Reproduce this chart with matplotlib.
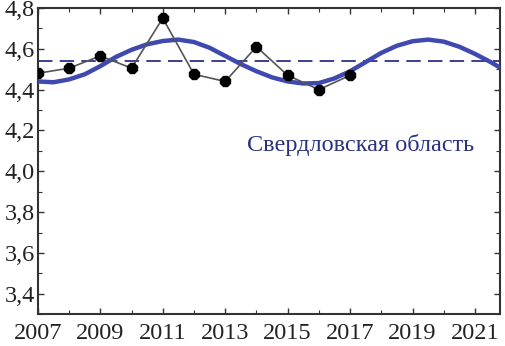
import matplotlib
matplotlib.use('Agg')
import matplotlib.pyplot as plt
from matplotlib.ticker import MultipleLocator, FuncFormatter

# observed values
years = [2007, 2008, 2009, 2010, 2011, 2012, 2013, 2014, 2015, 2016, 2017]
values = [4.48, 4.505, 4.565, 4.505, 4.75, 4.475, 4.44, 4.61, 4.47, 4.40, 4.47]

# fitted cyclic curve, every half year
fit_years = [2007.0, 2007.5, 2008.0, 2008.5, 2009.0, 2009.5, 2010.0, 2010.5,
             2011.0, 2011.5, 2012.0, 2012.5, 2013.0, 2013.5, 2014.0, 2014.5,
             2015.0, 2015.5, 2016.0, 2016.5, 2017.0, 2017.5, 2018.0, 2018.5,
             2019.0, 2019.5, 2020.0, 2020.5, 2021.0, 2021.5, 2022.0]
fit_values = [4.44, 4.436, 4.45, 4.475, 4.515, 4.56, 4.595, 4.622,
              4.638, 4.645, 4.633, 4.605, 4.565, 4.525, 4.49, 4.46,
              4.44, 4.43, 4.432, 4.455, 4.49, 4.535, 4.58, 4.615,
              4.637, 4.645, 4.635, 4.61, 4.575, 4.535, 4.49]

mean_level = 4.54
label = 'Свердловская область'
x_ticks = [2007, 2009, 2011, 2013, 2015, 2017, 2019, 2021]
y_ticks = [3.4, 3.6, 3.8, 4.0, 4.2, 4.4, 4.6, 4.8]

plt.rcParams['font.family'] = ['Liberation Serif', 'DejaVu Serif']

fig = plt.figure(figsize=(5.05, 3.46), dpi=100)
ax = fig.add_axes([0.075, 0.092, 0.915, 0.885])

ax.plot(fit_years, fit_values, color='#4049b0', lw=3.2, solid_capstyle='butt', zorder=3)
ax.axhline(mean_level, color='#2b3185', lw=1.3, dashes=(8, 4), zorder=2)
ax.plot(years, values, color='#555555', lw=1.2, marker='8', ms=8.5,
        mfc='black', mec='black', zorder=4)

ax.text(2013.7, 4.13, label, color='#2b3380', fontsize=17.5, va='center', ha='left')

ax.set_xlim(2007, 2021.8)
ax.set_ylim(3.3, 4.8)
ax.set_xticks(x_ticks)
ax.set_yticks(y_ticks)
ax.xaxis.set_minor_locator(MultipleLocator(1))
ax.yaxis.set_minor_locator(MultipleLocator(0.1))
ax.yaxis.set_major_formatter(FuncFormatter(lambda v, p: ('%.1f' % v).replace('.', ',')))

ax.tick_params(which='both', direction='in', top=True, right=True, color='#333333',
               labelsize=17.5, labelcolor='#222222')
ax.tick_params(which='major', length=4, width=1)
ax.tick_params(which='minor', length=3, width=0.8)
ax.tick_params(axis='x', pad=6)
ax.tick_params(axis='y', pad=2)
for s in ax.spines.values():
    s.set_color('#333333')
    s.set_linewidth(1.5)

fig.savefig('out.png', dpi=100)
